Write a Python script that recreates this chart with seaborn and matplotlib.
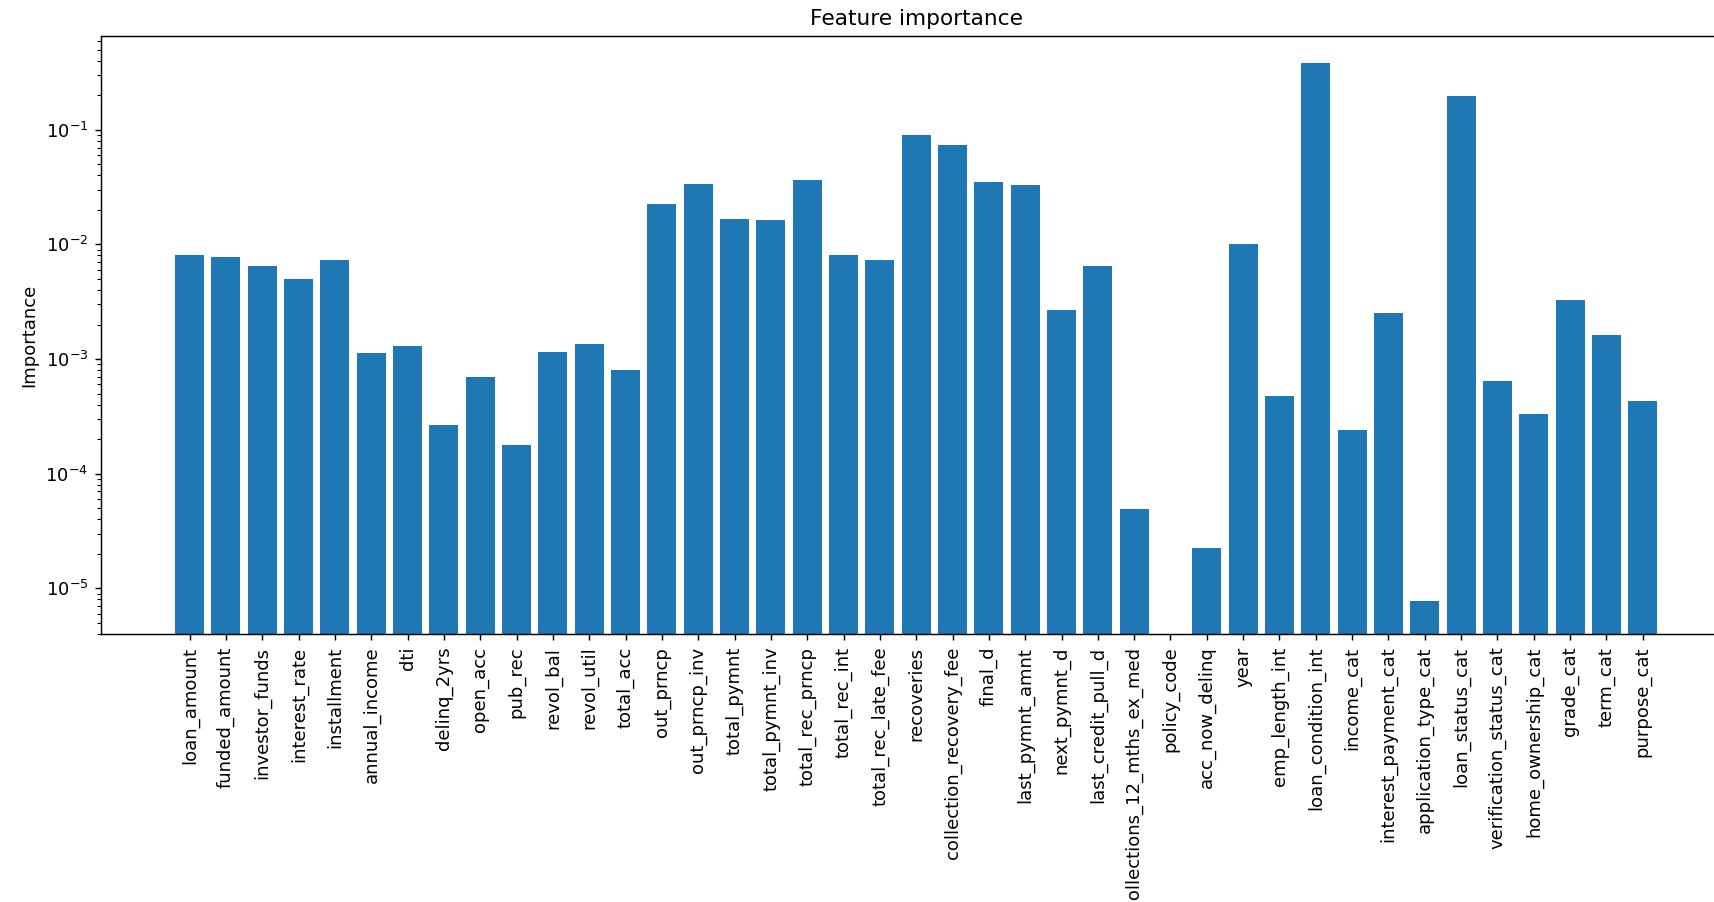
import matplotlib
matplotlib.use("Agg")
import matplotlib.pyplot as plt
import seaborn as sns
import pandas as pd

features = [
    "loan_amount", "funded_amount", "investor_funds", "interest_rate", "installment",
    "annual_income", "dti", "delinq_2yrs", "open_acc", "pub_rec", "revol_bal",
    "revol_util", "total_acc", "out_prncp", "out_prncp_inv", "total_pymnt",
    "total_pymnt_inv", "total_rec_prncp", "total_rec_int", "total_rec_late_fee",
    "recoveries", "collection_recovery_fee", "final_d", "last_pymnt_amnt",
    "next_pymnt_d", "last_credit_pull_d", "collections_12_mths_ex_med", "policy_code",
    "acc_now_delinq", "year", "emp_length_int", "loan_condition_int", "income_cat",
    "interest_payment_cat", "application_type_cat", "loan_status_cat",
    "verification_status_cat", "home_ownership_cat", "grade_cat", "term_cat",
    "purpose_cat",
]

importance = [
    0.00809, 0.00776, 0.00648, 0.00502, 0.00726,
    0.00112, 0.00129, 0.000265, 0.000690, 0.000177, 0.00115,
    0.00134, 0.000800, 0.0226, 0.0338, 0.0168,
    0.0162, 0.0362, 0.00803, 0.00726,
    0.0908, 0.0735, 0.0352, 0.0327,
    0.00266, 0.00648, 4.92e-5, 0.0,
    2.26e-5, 0.0100, 0.000477, 0.383, 0.000240,
    0.00251, 7.76e-6, 0.197,
    0.000646, 0.000333, 0.00324, 0.00163,
    0.000432,
]

df = pd.DataFrame({"feature": features, "importance": importance})

DPI = 130
fig = plt.figure(figsize=(1714 / DPI, 902 / DPI), dpi=DPI)
ax = fig.add_axes([101 / 1714, 268 / 902, 1630.4 / 1714, 598 / 902])

sns.barplot(data=df, x="feature", y="importance", color="#1f77b4",
            saturation=1, width=0.8, ax=ax, errorbar=None)

ax.set_yscale("log")
ax.set_ylim(10 ** -5.399, 10 ** -0.182)
n = len(features)
pad = 0.05 * (n - 1 + 0.8)
ax.set_xlim(-0.4 - pad, n - 1 + 0.4 + pad)

ax.set_xticks(range(n))
ax.set_xticklabels(features, rotation=90)
ax.set_xlabel("")
ax.set_ylabel("Importance")
ax.set_title("Feature importance")

fig.savefig("out.png", dpi=DPI)
